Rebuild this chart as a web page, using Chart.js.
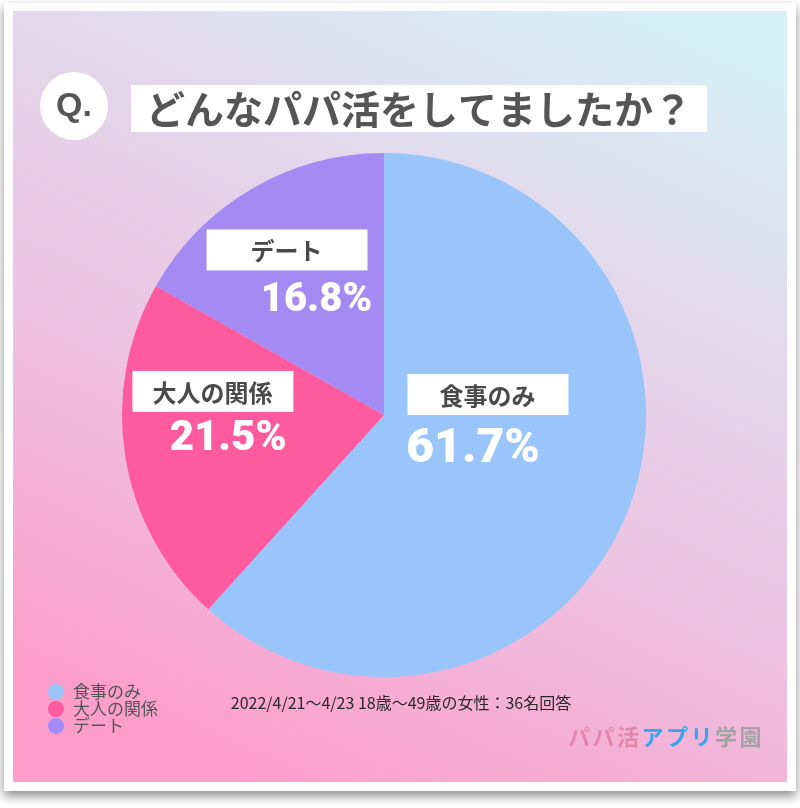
<!DOCTYPE html>
<html lang="ja">
<head>
<meta charset="utf-8">
<title>どんなパパ活をしてましたか？</title>
<script src="https://cdn.jsdelivr.net/npm/chart.js@4"></script>
<style>
  html, body { margin: 0; padding: 0; background: #fff; }
  canvas { display: block; }
</style>
</head>
<body>
<canvas id="papaChart" width="800" height="808"></canvas>
<script>
const categories = ['食事のみ', '大人の関係', 'デート'];
const percents = [61.7, 21.5, 16.8];
const sliceColors = ['#99c5fa', '#fd5aa0', '#a48bf4'];

const titleText = 'どんなパパ活をしてましたか？';
const footerText = '2022/4/21～4/23 18歳～49歳の女性：36名回答';

// label layout: box centre and percent centre, relative to pie centre in units of radius
const labelBox = [[0.395, -0.078], [-0.655, -0.09], [-0.372, -0.63]];
const pctPos = [[0.34, 0.135], [-0.595, 0.095], [-0.258, -0.435]];
const pctSize = [48, 42, 40];

const JP = '"Noto Sans CJK JP", "Noto Sans", sans-serif';

const backdrop = {
    id: 'backdrop',
    beforeDraw(chart) {
        const ctx = chart.ctx;
        ctx.save();
        ctx.fillStyle = '#fff';
        ctx.fillRect(0, 0, chart.width, chart.height);
        // card with shadow
        ctx.shadowColor = 'rgba(0,0,0,0.45)';
        ctx.shadowBlur = 10;
        ctx.shadowOffsetY = 5;
        ctx.fillRect(4, 3, 792, 788);
        ctx.shadowColor = 'transparent';
        // gradient panel
        const g = ctx.createLinearGradient(620, 0, 260, 782);
        g.addColorStop(0, '#d7f0f8');
        g.addColorStop(0.3, '#e2d8ec');
        g.addColorStop(0.6, '#edc3e2');
        g.addColorStop(1, '#fc9dcb');
        ctx.fillStyle = g;
        ctx.fillRect(13, 11, 774, 771);
        ctx.restore();
    },
    afterDraw(chart) {
        const ctx = chart.ctx;
        const arc = chart.getDatasetMeta(0).data[0];
        const cx = arc.x, cy = arc.y, r = arc.outerRadius;
        ctx.save();

        // Q. badge
        ctx.fillStyle = '#fff';
        ctx.beginPath();
        ctx.arc(74, 106, 34, 0, Math.PI * 2);
        ctx.fill();
        ctx.fillStyle = '#555';
        ctx.font = 'bold 34px "Liberation Sans Narrow", "Liberation Sans", Arial, sans-serif';
        ctx.textAlign = 'center';
        ctx.textBaseline = 'middle';
        ctx.fillText('Q.', 74, 107);

        // title
        ctx.fillStyle = '#fff';
        ctx.fillRect(131, 85, 576, 47);
        ctx.fillStyle = '#555';
        ctx.font = 'bold 39px ' + JP;
        ctx.textAlign = 'left';
        ctx.fillText(titleText, 146, 109);

        // slice labels
        categories.forEach((name, i) => {
            const bx = cx + labelBox[i][0] * r;
            const by = cy + labelBox[i][1] * r;
            ctx.fillStyle = '#fff';
            ctx.fillRect(bx - 80, by - 20.5, 161, 41);
            ctx.fillStyle = '#4a4a4a';
            ctx.font = 'bold 24px ' + JP;
            ctx.textAlign = 'center';
            ctx.textBaseline = 'middle';
            ctx.fillText(name, bx, by + 1);

            ctx.fillStyle = '#fff';
            ctx.font = '900 ' + pctSize[i] + 'px Roboto, "Liberation Sans", sans-serif';
            ctx.fillText(percents[i].toFixed(1) + '%', cx + pctPos[i][0] * r, cy + pctPos[i][1] * r);
        });

        // legend
        categories.forEach((name, i) => {
            const y = 692 + i * 17;
            ctx.fillStyle = sliceColors[i];
            ctx.beginPath();
            ctx.arc(56, y, 8, 0, Math.PI * 2);
            ctx.fill();
            ctx.fillStyle = '#555';
            ctx.font = '17px ' + JP;
            ctx.textAlign = 'left';
            ctx.textBaseline = 'middle';
            ctx.fillText(name, 73, y);
        });

        // footer note
        ctx.fillStyle = '#2a2a2a';
        ctx.font = '16px ' + JP;
        ctx.textAlign = 'center';
        ctx.fillText(footerText, 401, 703);

        // watermark
        ctx.font = 'bold 22px ' + JP;
        ctx.textAlign = 'left';
        const parts = [['パパ活', 'rgba(222,120,160,0.75)'], ['アプリ', '#35a6ea'], ['学園', '#a3a3a3']];
        let x = 568;
        parts.forEach(([t, c]) => {
            ctx.fillStyle = c;
            for (const ch of t) {
                ctx.fillText(ch, x, 737);
                x += ctx.measureText(ch).width + 2.5;
            }
        });
        ctx.restore();
    }
};

new Chart(document.getElementById('papaChart'), {
    type: 'pie',
    data: {
        labels: categories,
        datasets: [{
            data: percents,
            backgroundColor: sliceColors,
            borderWidth: 0
        }]
    },
    options: {
        responsive: false,
        animation: false,
        layout: { padding: { left: 122, right: 154, top: 153, bottom: 131 } },
        plugins: {
            legend: { display: false },
            tooltip: { enabled: false }
        }
    },
    plugins: [backdrop]
});
</script>
</body>
</html>
